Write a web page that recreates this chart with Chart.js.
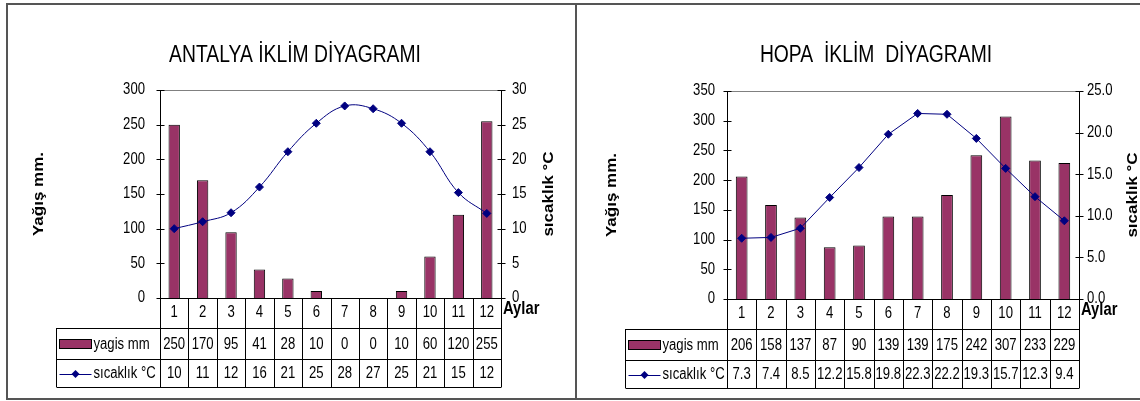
<!DOCTYPE html>
<html>
<head>
<meta charset="utf-8">
<script src="https://cdn.jsdelivr.net/npm/chart.js@4.4.0/dist/chart.umd.min.js"></script>
<style>
html, body { margin: 0; padding: 0; background: #fff; }
body { width: 1140px; height: 401px; position: relative; overflow: hidden; }
#sol { position: absolute; left: 0; top: 0; width: 576px; height: 401px; }
#sag { position: absolute; left: 576px; top: 0; width: 564px; height: 401px; }
.cerceve { position: absolute; background: #555; }
</style>
</head>
<body>
<div id="sol"><canvas id="antalya"></canvas></div>
<div id="sag"><canvas id="hopa"></canvas></div>
<div class="cerceve" style="left:7px;top:3px;width:1133px;height:2px"></div>
<div class="cerceve" style="left:6px;top:3px;width:2px;height:397px"></div>
<div class="cerceve" style="left:575px;top:3px;width:2px;height:397px"></div>
<div class="cerceve" style="left:7px;top:398px;width:1133px;height:2px"></div>
<script>
// veriler
const aylar = ['1', '2', '3', '4', '5', '6', '7', '8', '9', '10', '11', '12']

const antalyaYagis = [250, 170, 95, 41, 28, 10, 0, 0, 10, 60, 120, 255]
const antalyaSicaklik = [10, 11, 12.3, 16, 21.1, 25.2, 27.7, 27.3, 25.2, 21.1, 15.2, 12.2]
const antalyaYagisTicks = [0, 50, 100, 150, 200, 250, 300]
const antalyaSicaklikTicks = [0, 5, 10, 15, 20, 25, 30]

const hopaYagis = [206, 158, 137, 87, 90, 139, 139, 175, 242, 307, 233, 229]
const hopaSicaklik = [7.3, 7.4, 8.5, 12.2, 15.8, 19.8, 22.3, 22.2, 19.3, 15.7, 12.3, 9.4]
const hopaYagisTicks = [0, 50, 100, 150, 200, 250, 300, 350]
const hopaSicaklikTicks = [0, 5, 10, 15, 20, 25]

const GENIS = "'Liberation Sans', Arial, sans-serif"
const DARLIK = 0.82   // dar yazı için yatay sıkıştırma
const BORDO = '#993366'
const LACIVERT = '#000080'

// dar (sıkıştırılmış) yazı
function yaz(ctx, text, x, y, size, align, bold, sx) {
    ctx.save()
    ctx.translate(x, y)
    ctx.scale(sx || DARLIK, 1)
    ctx.font = (bold ? 'bold ' : '') + size + 'px ' + GENIS
    ctx.textAlign = align
    ctx.textBaseline = 'middle'
    ctx.fillStyle = '#000'
    ctx.fillText(text, 0, 0)
    ctx.restore()
}

// başlık, tablo ve eksen yazıları
const tabloPlugin = {
    id: 'tablo',
    afterDraw(chart, args, o) {
        const ctx = chart.ctx
        const a = chart.chartArea
        const x = chart.scales.x
        const n = chart.data.labels.length
        const cw = (a.right - a.left) / n
        const r0 = a.bottom, r1 = r0 + 30, r2 = r1 + 31, r3 = r2 + 28
        const cizgi = (x1, y1, x2, y2) => {
            ctx.beginPath(); ctx.moveTo(x1, y1); ctx.lineTo(x2, y2); ctx.stroke()
        }
        ctx.save()
        ctx.lineWidth = 1

        // grafik alanı üst çizgisi
        ctx.strokeStyle = '#808080'
        cizgi(a.left, Math.round(a.top) + 0.5, a.right, Math.round(a.top) + 0.5)

        // eksen çentikleri ve etiketleri
        ctx.strokeStyle = '#000'
        ;['yR', 'yT'].forEach(id => {
            const s = chart.scales[id]
            const sol = id === 'yR'
            const ex = Math.round(sol ? a.left : a.right) + 0.5
            s.ticks.forEach(t => {
                const yp = s.getPixelForValue(t.value)
                const y = Math.round(yp) + 0.5
                cizgi(ex - 4, y, ex + 4, y)
                const lbl = sol ? String(t.value) : Number(t.value).toFixed(o.dec)
                if (sol) yaz(ctx, lbl, a.left - o.leftPad, yp, 16, 'right')
                else yaz(ctx, lbl, a.right + o.rightPad, yp, 16, 'left')
            })
        })
        chart.data.labels.forEach((lbl, i) => {
            yaz(ctx, lbl, x.getPixelForValue(i), r0 + 15, 16, 'center')
        })

        // tablo çizgileri
        const L = o.legendLeft + 0.5
        for (let i = 0; i <= n; i++) {
            const px = Math.round(i < n ? x.getPixelForValue(i) - cw / 2 : a.right) + 0.5
            cizgi(px, r0, px, r3)
        }
        cizgi(L, r1, L, r3)
        ;[r1, r2, r3].forEach(r => cizgi(L, Math.round(r) + 0.5, Math.round(a.right) + 0.5, Math.round(r) + 0.5))

        // tablo değerleri
        const bar = chart.data.datasets[1], line = chart.data.datasets[0]
        const m2 = (r1 + r2) / 2 + 1, m3 = (r2 + r3) / 2 + 1
        for (let i = 0; i < n; i++) {
            const cx = x.getPixelForValue(i)
            yaz(ctx, String(bar.data[i]), cx, m2, 16, 'center')
            yaz(ctx, line.data[i].toFixed(o.dec), cx, m3, 16, 'center')
        }

        // tablo lejantı
        ctx.fillStyle = BORDO
        ctx.fillRect(L + 3, m2 - 5, 32, 9)
        ctx.strokeStyle = '#000'
        ctx.strokeRect(L + 3, m2 - 5, 32, 9)
        ctx.strokeStyle = LACIVERT
        cizgi(L + 3, Math.round(m3) + 0.5, L + 35, Math.round(m3) + 0.5)
        ctx.fillStyle = LACIVERT
        ctx.beginPath()
        ctx.moveTo(L + 19, m3 - 4); ctx.lineTo(L + 23, m3); ctx.lineTo(L + 19, m3 + 4); ctx.lineTo(L + 15, m3)
        ctx.closePath(); ctx.fill()
        yaz(ctx, bar.label, L + 37, m2, 16, 'left')
        yaz(ctx, line.label, L + 37, m3, 16, 'left')

        // Aylar
        yaz(ctx, 'Aylar', a.right + 2, r0 + 11, 18, 'left', true)

        // başlık
        yaz(ctx, o.title, o.titleX, 56, 23, 'center', false, 0.84)

        // dikey eksen başlıkları
        const dikey = (text, tx) => {
            ctx.save()
            ctx.translate(tx, (a.top + a.bottom) / 2)
            ctx.rotate(-Math.PI / 2)
            ctx.scale(1, 0.84)
            ctx.font = 'bold 17px ' + GENIS
            ctx.textAlign = 'center'
            ctx.textBaseline = 'middle'
            ctx.fillStyle = '#000'
            ctx.fillText(text, 0, 0)
            ctx.restore()
        }
        dikey('Yağış mm.', o.leftTitleX)
        dikey('sıcaklık °C', o.rightTitleX)
        ctx.restore()
    }
}

function iklimGrafigi(id, yagis, sicaklik, yagisTicks, sicaklikTicks, g) {
    return new Chart(document.getElementById(id), {
        data: {
            labels: aylar,
            datasets: [
                {
                    type: 'line',
                    label: 'sıcaklık °C',
                    data: sicaklik,
                    yAxisID: 'yT',
                    order: 0,
                    borderColor: LACIVERT,
                    borderWidth: 1,
                    tension: g.tension,
                    pointStyle: 'rectRot',
                    pointRadius: 4,
                    pointBackgroundColor: LACIVERT,
                    pointBorderColor: LACIVERT,
                    pointBorderWidth: 1
                },
                {
                    type: 'bar',
                    label: 'yagis mm',
                    data: yagis,
                    yAxisID: 'yR',
                    order: 1,
                    backgroundColor: BORDO,
                    borderColor: '#000',
                    borderWidth: 1,
                    barPercentage: 0.4,
                    categoryPercentage: 1
                }
            ]
        },
        options: {
            responsive: true,
            maintainAspectRatio: false,
            animation: false,
            layout: { padding: { left: 0, right: 0, top: g.top, bottom: g.bottom } },
            plugins: {
                legend: { display: false },
                tooltip: { enabled: false },
                tablo: g
            },
            scales: {
                x: {
                    type: 'category',
                    offset: true,
                    grid: { display: false },
                    border: { display: true, color: '#000', width: 1 },
                    ticks: { display: false },
                    afterFit: s => { s.height = 89 }
                },
                yR: {
                    position: 'left',
                    min: yagisTicks[0],
                    max: yagisTicks[yagisTicks.length - 1],
                    grid: { display: false },
                    border: { display: true, color: '#000', width: 1 },
                    ticks: { display: false, stepSize: yagisTicks[1] - yagisTicks[0] },
                    afterFit: s => { s.width = g.leftW }
                },
                yT: {
                    position: 'right',
                    min: sicaklikTicks[0],
                    max: sicaklikTicks[sicaklikTicks.length - 1],
                    grid: { display: false },
                    border: { display: true, color: '#000', width: 1 },
                    ticks: { display: false, stepSize: sicaklikTicks[1] - sicaklikTicks[0] },
                    afterFit: s => { s.width = g.rightW }
                }
            }
        },
        plugins: [tabloPlugin]
    })
}

iklimGrafigi('antalya', antalyaYagis, antalyaSicaklik, antalyaYagisTicks, antalyaSicaklikTicks, {
    title: 'ANTALYA İKLİM DİYAGRAMI', titleX: 295, leftTitleX: 39, rightTitleX: 549,
    legendLeft: 56, dec: 0, tension: 0.4,
    top: 90, bottom: 14, leftW: 160, rightW: 75, leftPad: 15, rightPad: 11
})

iklimGrafigi('hopa', hopaYagis, hopaSicaklik, hopaYagisTicks, hopaSicaklikTicks, {
    title: 'HOPA  İKLİM  DİYAGRAMI', titleX: 300, leftTitleX: 36, rightTitleX: 557,
    legendLeft: 49, dec: 1, tension: 0,
    top: 91, bottom: 13, leftW: 151, rightW: 61, leftPad: 12, rightPad: 8
})
</script>
</body>
</html>
